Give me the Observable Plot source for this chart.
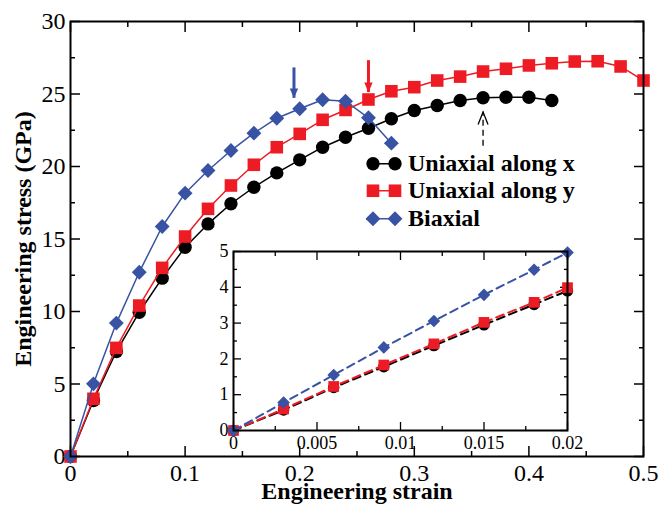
<!DOCTYPE html>
<html>
<head>
<meta charset="utf-8">
<script src="https://cdn.jsdelivr.net/npm/d3@7"></script>
<script src="https://cdn.jsdelivr.net/npm/@observablehq/plot@0.6"></script>
<style>
  html, body { margin: 0; padding: 0; background: #fff; }
  #wrap { position: relative; width: 660px; height: 507px; font-family: "Liberation Serif", "Times New Roman", serif; color: #000; }
  #wrap svg text { font-family: "Liberation Serif", "Times New Roman", serif; }
</style>
</head>
<body>
<div id="wrap"></div>
<script>
const FONT = '"Liberation Serif", "Times New Roman", serif';

// ---------- main chart data ----------
const strainMain = [0, 0.02, 0.04, 0.06, 0.08, 0.10, 0.12, 0.14, 0.16, 0.18, 0.20, 0.22, 0.24,
                    0.26, 0.28, 0.30, 0.32, 0.34, 0.36, 0.38, 0.40, 0.42, 0.44, 0.46, 0.48, 0.50];
const stressUniX = [0, 3.86, 7.24, 9.95, 12.3, 14.43, 16.04, 17.43, 18.57, 19.56, 20.46, 21.33,
                    22.02, 22.64, 23.29, 23.86, 24.21, 24.55, 24.74, 24.78, 24.78, 24.55];
const stressUniY = [0, 3.98, 7.49, 10.41, 13.01, 15.17, 17.08, 18.69, 20.12, 21.33, 22.25, 23.22,
                    23.9, 24.62, 25.19, 25.47, 25.93, 26.2, 26.55, 26.74, 26.97, 27.12, 27.24, 27.26, 26.9, 25.93];
const stressBiax = [0, 5.01, 9.2, 12.71, 15.86, 18.16, 19.72, 21.1, 22.3, 23.33, 23.98, 24.6,
                    24.5, 23.36, 21.61];

// ---------- inset data ----------
const strainInset = [0, 0.003, 0.006, 0.009, 0.012, 0.015, 0.018, 0.02];
const insetUniX = [0, 0.57, 1.2, 1.78, 2.37, 2.95, 3.52, 3.9];
const insetUniY = [0, 0.6, 1.23, 1.83, 2.42, 3.02, 3.58, 3.99];
const insetBiax = [0, 0.78, 1.55, 2.32, 3.06, 3.79, 4.49, 4.97];

// ---------- series styling ----------
const seriesNames = ["Uniaxial along x", "Uniaxial along y", "Biaxial"];
const seriesColors = ["#000000", "#ed1c24", "#3953a4"];
const seriesSymbols = ["circle", "square", "diamond2"];
const d3Symbols = [d3.symbolCircle, d3.symbolSquare, d3.symbolDiamond2];
const seriesR = [6.7, 7.1, 6.7];

// ---------- ticks ----------
const xTicks = [0, 0.1, 0.2, 0.3, 0.4, 0.5];
const xTickLabels = ["0", "0.1", "0.2", "0.3", "0.4", "0.5"];
const xMinor = [0.05, 0.15, 0.25, 0.35, 0.45];
const yTicks = [0, 5, 10, 15, 20, 25, 30];
const yTickLabels = ["0", "5", "10", "15", "20", "25", "30"];
const yMinor = [2.5, 7.5, 12.5, 17.5, 22.5, 27.5];

const ixTicks = [0, 0.005, 0.01, 0.015, 0.02];
const ixTickLabels = ["0", "0.005", "0.01", "0.015", "0.02"];
const ixMinor = [0.0025, 0.0075, 0.0125, 0.0175];
const iyTicks = [0, 1, 2, 3, 4, 5];
const iyTickLabels = ["0", "1", "2", "3", "4", "5"];
const iyMinor = [0.5, 1.5, 2.5, 3.5, 4.5];

// ---------- annotations ----------
const arrowStrain = [0.195, 0.26];
const arrowFrom = [26.8, 27.3];
const arrowTo = [24.7, 25.1];
const arrowColors = ["#3953a4", "#ed1c24"];
const dashStrain = [0.36];
const dashFrom = [21.4];
const dashTo = [23.75];

const xLabel = "Engineering strain";
const yLabel = "Engineering stress (GPa)";

// ---------- build records ----------
const mainSeries = [stressUniX, stressUniY, stressBiax].map((vals, s) =>
  vals.map((v, i) => ({strain: strainMain[i], stress: v, s})));
const insetSeries = [insetUniX, insetUniY, insetBiax].map((vals, s) =>
  vals.map((v, i) => ({strain: strainInset[i], stress: v, s})));
const arrows = arrowStrain.map((x, i) => ({x, y1: arrowFrom[i], y2: arrowTo[i], c: arrowColors[i]}));
const dashArrows = dashStrain.map((x, i) => ({x, y1: dashFrom[i], y2: dashTo[i]}));

const mapLab = (ticks, labels) => d => labels[ticks.findIndex(t => Math.abs(t - d) < 1e-9)];

// custom symbols
const headDown = {draw(ctx, size) { const s = Math.sqrt(size); ctx.moveTo(-0.42 * s, -s); ctx.lineTo(0.42 * s, -s); ctx.lineTo(0, 0); ctx.closePath(); }};
const chevronUp = {draw(ctx, size) { const s = Math.sqrt(size); ctx.moveTo(-0.4 * s, s); ctx.lineTo(0, 0); ctx.lineTo(0.4 * s, s); }};

function tickMarks(xt, xm, yt, ym, major, minor, sw) {
  const o = {fill: "none", label: null, strokeWidth: sw};
  return [
    Plot.axisX(xt, {...o, anchor: "bottom", tickSize: -major}),
    Plot.axisX(xt, {...o, anchor: "top", tickSize: -major}),
    Plot.axisX(xm, {...o, anchor: "bottom", tickSize: -minor}),
    Plot.axisX(xm, {...o, anchor: "top", tickSize: -minor}),
    Plot.axisY(yt, {...o, anchor: "left", tickSize: -major}),
    Plot.axisY(yt, {...o, anchor: "right", tickSize: -major}),
    Plot.axisY(ym, {...o, anchor: "left", tickSize: -minor}),
    Plot.axisY(ym, {...o, anchor: "right", tickSize: -minor})
  ];
}

const seriesMarks = (series, opts) => series.flatMap((data, s) => [
  Plot.line(data, {x: "strain", y: "stress", stroke: seriesColors[s], strokeWidth: opts.lw, strokeDasharray: opts.dash}),
  Plot.dot(data, {x: "strain", y: "stress", symbol: seriesSymbols[s], fill: seriesColors[s], stroke: "none", r: seriesR[s] * opts.rs})
]);

const main = Plot.plot({
  width: 660, height: 507,
  marginLeft: 70, marginRight: 17, marginTop: 21, marginBottom: 51,
  x: {domain: [0, 0.5]},
  y: {domain: [0, 30]},
  style: {fontFamily: FONT, fontSize: "24px", color: "#000", background: "transparent"},
  marks: [
    Plot.axisX(xTicks, {anchor: "bottom", tickSize: 0, tickPadding: 7, tickFormat: mapLab(xTicks, xTickLabels), label: null, fontSize: 24, fontFamily: FONT}),
    Plot.axisY(yTicks, {anchor: "left", tickSize: 0, tickPadding: 5, tickFormat: mapLab(yTicks, yTickLabels), label: null, fontSize: 24, fontFamily: FONT}),
    ...tickMarks(xTicks, xMinor, yTicks, yMinor, 10, 5, 1.5),
    Plot.text([xLabel], {frameAnchor: "bottom", dy: 35, text: d => d, textAnchor: "middle", lineAnchor: "middle", fontWeight: "bold", fontSize: 24, fontFamily: FONT}),
    Plot.text([yLabel], {frameAnchor: "left", dx: -47, rotate: -90, text: d => d, textAnchor: "middle", lineAnchor: "middle", fontWeight: "bold", fontSize: 24, fontFamily: FONT}),
    ...seriesMarks(mainSeries, {lw: 1.5, dash: null, rs: 1}),
    Plot.ruleX(arrows, {x: "x", y1: "y1", y2: "y2", stroke: "c", strokeWidth: 3}),
    Plot.dot(arrows, {x: "x", y: "y2", symbol: headDown, r: 5.6, fill: "c", stroke: "none"}),
    Plot.ruleX(dashArrows, {x: "x", y1: "y1", y2: "y2", stroke: "#000", strokeWidth: 1.3, strokeDasharray: "6,4"}),
    Plot.dot(dashArrows, {x: "x", y: "y2", symbol: chevronUp, r: 7, fill: "none", stroke: "#000", strokeWidth: 1.3}),
    Plot.frame({stroke: "#000", strokeWidth: 2})
  ]
});

const inset = Plot.plot({
  width: 379, height: 207,
  marginLeft: 20, marginRight: 25, marginTop: 5, marginBottom: 23,
  x: {domain: [0, 0.02]},
  y: {domain: [0, 5]},
  style: {fontFamily: FONT, fontSize: "18px", color: "#000", background: "transparent", overflow: "visible"},
  marks: [
    Plot.axisX(ixTicks, {anchor: "bottom", tickSize: 0, tickPadding: 6, tickFormat: mapLab(ixTicks, ixTickLabels), label: null, fontSize: 18, fontFamily: FONT}),
    Plot.axisY(iyTicks, {anchor: "left", tickSize: 0, tickPadding: 5, tickFormat: mapLab(iyTicks, iyTickLabels), label: null, fontSize: 18, fontFamily: FONT}),
    ...tickMarks(ixTicks, ixMinor, iyTicks, iyMinor, 8, 4, 1.3),
    ...seriesMarks(insetSeries, {lw: 2, dash: "8,5", rs: 0.85}),
    Plot.frame({stroke: "#000", strokeWidth: 2})
  ]
});

const wrap = document.getElementById("wrap");
main.style.position = "absolute"; main.style.left = "0px"; main.style.top = "0px";
inset.style.position = "absolute"; inset.style.left = "213px"; inset.style.top = "246px";
wrap.append(main);
wrap.append(inset);

// legend (HTML overlay)
const legend = d3.select(wrap).append("div")
  .style("position", "absolute").style("left", "366px").style("top", "149.5px");
seriesNames.forEach((name, i) => {
  const row = legend.append("div").style("display", "flex").style("align-items", "center").style("height", "27.5px");
  const svg = row.append("svg").attr("width", 42).attr("height", 27.5).style("display", "block");
  svg.append("line").attr("x1", 7).attr("x2", 29).attr("y1", 13.75).attr("y2", 13.75)
    .attr("stroke", seriesColors[i]).attr("stroke-width", 1.5);
  const sym = d3.symbol(d3Symbols[i], Math.PI * seriesR[i] * seriesR[i]);
  [7, 29].forEach(cx => svg.append("path").attr("d", sym()).attr("transform", `translate(${cx},13.75)`).attr("fill", seriesColors[i]));
  row.append("span").text(name).style("font-weight", "bold").style("font-size", "24px")
    .style("font-family", FONT).style("white-space", "nowrap").style("line-height", "27.5px");
});
</script>
</body>
</html>
